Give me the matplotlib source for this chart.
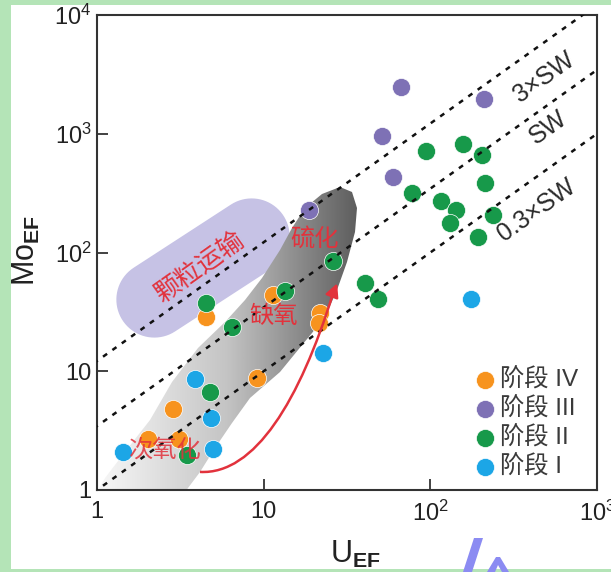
import numpy as np
import matplotlib.pyplot as plt
from matplotlib.patches import Polygon, Rectangle, PathPatch
from matplotlib.path import Path
from matplotlib.colors import LinearSegmentedColormap

plt.rcParams['font.family'] = ['Liberation Sans', 'Noto Sans CJK SC', 'DejaVu Sans']
plt.rcParams['mathtext.fontset'] = 'custom'
plt.rcParams['mathtext.rm'] = 'Liberation Sans'
plt.rcParams['mathtext.it'] = 'Liberation Sans:italic'
plt.rcParams['mathtext.bf'] = 'Liberation Sans:bold'

# ---- data (U_EF, Mo_EF) ----
stage4_u = [4.53, 11.3, 21.7, 21.4, 9.07, 2.85, 2.02, 3.10]
stage4_mo = [28.8, 43.9, 30.9, 25.5, 8.72, 4.81, 2.69, 2.67]
stage3_u = [66.4, 209, 51.1, 60.0, 18.7]
stage3_mo = [2477, 1963, 957, 435, 228]
stage2_u = [93.9, 156, 203, 214, 77.3, 116, 143, 131, 237, 194, 26.0, 40.4, 48.4,
            13.5, 4.53, 6.44, 4.76, 3.45]
stage2_mo = [716, 820, 662, 387, 317, 273, 228, 178, 207, 134, 84.8, 55.4, 40.6,
             47.7, 37.8, 23.7, 6.73, 1.97]
stage1_u = [3.87, 4.81, 4.96, 1.43, 22.6, 176]
stage1_mo = [8.6, 4.06, 2.21, 2.09, 14.3, 40.6]

sw_ratios = [12.2, 3.45, 1.0]          # 3xSW, SW, 0.3xSW lines (Mo/U)
sw_labels = ['3×SW', 'SW', '0.3×SW']

# red trend arrow: start, two bezier controls, end, tip (U, Mo)
arrow_u = [4.15, 8.86, 16.5, 26.0]
arrow_mo = [1.42, 1.34, 5.73, 44.7]
arrow_tip = (27.6, 55.0)

xticks = [1, 10, 100, 1000]
xticklabels = ['1', '10', r'$\mathregular{10^{2}}$', r'$\mathregular{10^{3}}$']
yticks = [1, 10, 100, 1000, 10000]
yticklabels = ['1', '10', r'$\mathregular{10^{2}}$', r'$\mathregular{10^{3}}$',
               r'$\mathregular{10^{4}}$']

c4, c3, c2, c1 = '#F7931E', '#7E71B5', '#17994A', '#1CA6E6'
red = '#E2323C'

# ---- figure ----
W, H = 611, 572
fig = plt.figure(figsize=(W / 100, H / 100), dpi=100)
fig.patch.set_facecolor('#B4E4B7')
fig.add_artist(Rectangle((11 / W, 3 / H), 1, (H - 8) / H, transform=fig.transFigure,
                         facecolor='white', edgecolor='none', zorder=-5))

ax_l, ax_r, ax_t, ax_b = 97, 597, 15, 490
ax = fig.add_axes([ax_l / W, (H - ax_b) / H, (ax_r - ax_l) / W, (ax_b - ax_t) / H])
ax.set_xscale('log')
ax.set_yscale('log')
ax.set_xlim(1, 1000)
ax.set_ylim(1, 10000)
ax.set_autoscale_on(False)

aw, ah = ax_r - ax_l, ax_b - ax_t


def frac(pts):
    # pixel positions inside the axes -> axes fraction
    return [((x - ax_l) / aw, (ax_b - y) / ah) for x, y in pts]


# lavender field (stadium shape)
cx, cy, ang, half, rad = 203, 268, np.radians(33), 58, 38
t = np.linspace(-np.pi / 2, np.pi / 2, 40)
d = np.array([np.cos(ang), -np.sin(ang)])
n = np.array([np.sin(ang), np.cos(ang)])
side1 = [(cx + half * d[0] + rad * (np.cos(a) * d[0] + np.sin(a) * n[0]),
          cy + half * d[1] + rad * (np.cos(a) * d[1] + np.sin(a) * n[1])) for a in t]
side2 = [(cx - half * d[0] - rad * (np.cos(a) * d[0] + np.sin(a) * n[0]),
          cy - half * d[1] - rad * (np.cos(a) * d[1] + np.sin(a) * n[1])) for a in t]
blob = Polygon(frac(side1 + side2), closed=True, transform=ax.transAxes,
               facecolor='#C6C2E5', edgecolor='none', zorder=1)
ax.add_patch(blob)

# gray gradient band
band_px = [(95, 495), (105, 478), (128, 448), (150, 420), (172, 382), (198, 348),
           (225, 322), (245, 300), (262, 278), (280, 250), (292, 228), (305, 208),
           (322, 194), (340, 187), (352, 192), (357, 208), (355, 232), (347, 262),
           (337, 290), (326, 315), (312, 333), (298, 350), (280, 372), (250, 398),
           (232, 423), (215, 448), (200, 472), (185, 492), (178, 505)]
band = Polygon(frac(band_px), closed=True, transform=ax.transAxes,
               facecolor='none', edgecolor='none')
ax.add_patch(band)
cmap = LinearSegmentedColormap.from_list('band', ['#f8f8f8', '#c4c4c4', '#5e5e5e'])
img = ax.imshow(np.linspace(0, 1, 256).reshape(1, -1), cmap=cmap, aspect='auto',
                extent=[0.0, 0.52, -0.05, 0.66], transform=ax.transAxes,
                interpolation='bilinear', zorder=1.1)
img.set_clip_path(band)
ax.set_xlim(1, 1000)
ax.set_ylim(1, 10000)

# points
ms = 170
kw = dict(s=ms, edgecolors='white', linewidths=0.5, zorder=2)
h4 = ax.scatter(stage4_u, stage4_mo, color=c4, label='阶段 IV', **kw)
h3 = ax.scatter(stage3_u, stage3_mo, color=c3, label='阶段 III', **kw)
h2 = ax.scatter(stage2_u, stage2_mo, color=c2, label='阶段 II', **kw)
h1 = ax.scatter(stage1_u, stage1_mo, color=c1, label='阶段 I', **kw)

# seawater reference lines
u_line = np.array([0.5, 3000])
for r in sw_ratios:
    ax.plot(u_line, r * u_line, color='#111111', lw=1.8, dashes=(2.0, 2.6), zorder=3)

ang_txt = 35.5
ax.text(0.894, 0.869, sw_labels[0], transform=ax.transAxes, rotation=ang_txt,
        ha='center', va='center', fontsize=18, color='#2a2a2a', zorder=4)
ax.text(0.902, 0.762, sw_labels[1], transform=ax.transAxes, rotation=ang_txt,
        ha='center', va='center', fontsize=18, color='#2a2a2a', zorder=4)
ax.text(0.880, 0.589, sw_labels[2], transform=ax.transAxes, rotation=ang_txt,
        ha='center', va='center', fontsize=18, color='#2a2a2a', zorder=4)

# red arrow (cubic bezier)
curve = Path(list(zip(arrow_u, arrow_mo)),
             [Path.MOVETO, Path.CURVE4, Path.CURVE4, Path.CURVE4])
ax.add_patch(PathPatch(curve, transform=ax.transData, facecolor='none',
                       edgecolor=red, lw=1.8, zorder=3.5))
ax.annotate('', xy=arrow_tip, xytext=(arrow_u[-1], arrow_mo[-1]),
            arrowprops=dict(arrowstyle='-|>', color=red, lw=1.8, mutation_scale=20,
                            shrinkA=0, shrinkB=0), zorder=3.5)

# red labels
cjk = ['Noto Sans CJK SC']
ax.text(0.206, 0.469, '颗粒运输', transform=ax.transAxes, rotation=35.5, ha='center',
        va='center', fontsize=18.5, color=red, family=cjk, zorder=4)
ax.text(0.436, 0.528, '硫化', transform=ax.transAxes, ha='center', va='center',
        fontsize=17.5, color=red, family=cjk, zorder=4)
ax.text(0.354, 0.366, '缺氧', transform=ax.transAxes, ha='center', va='center',
        fontsize=17.5, color=red, family=cjk, zorder=4)
ax.text(0.136, 0.084, '次氧化', transform=ax.transAxes, ha='center', va='center',
        fontsize=17.5, color=red, alpha=0.85, family=cjk, zorder=4)

# legend
leg = ax.legend(handles=[h4, h3, h2, h1], loc='upper left', bbox_to_anchor=(0.752, 0.256),
                frameon=False, fontsize=17.5, handletextpad=0.12, labelspacing=0.22,
                borderaxespad=0, handlelength=1.0, borderpad=0)
for txt in leg.get_texts():
    txt.set_color('#3a3a3a')

# axes styling
ax.set_xticks(xticks)
ax.set_xticklabels(xticklabels)
ax.set_yticks(yticks)
ax.set_yticklabels(yticklabels)
ax.xaxis.set_minor_locator(plt.NullLocator())
ax.yaxis.set_minor_locator(plt.NullLocator())
ax.tick_params(which='major', direction='in', length=8, width=1.3, color='#333333',
               labelsize=17, labelcolor='#222222')
ax.tick_params(axis='x', pad=8)
ax.tick_params(axis='y', pad=4)
for sp in ax.spines.values():
    sp.set_linewidth(1.5)
    sp.set_color('#333333')

fig.text(355 / W, 9 / H, r'U$_{\mathbf{EF}}$', ha='center', va='baseline',
         fontsize=22, color='#222222')
fig.text(26 / W, (H - 250) / H, r'Mo$_{\mathbf{EF}}$', ha='center', va='center',
         rotation=90, fontsize=22, color='#222222')

# stray blue marks at the bottom edge
blue = '#8B8BF2'
fig.add_artist(Polygon([(474 / W, (H - 538) / H), (483 / W, (H - 538) / H),
                        (472 / W, (H - 572) / H), (463 / W, (H - 572) / H)],
                       closed=True, transform=fig.transFigure, facecolor=blue,
                       edgecolor='none'))
fig.add_artist(Polygon([(487 / W, (H - 572) / H), (496 / W, (H - 557) / H),
                        (500 / W, (H - 557) / H), (509 / W, (H - 572) / H),
                        (502 / W, (H - 572) / H), (498 / W, (H - 565) / H),
                        (495 / W, (H - 572) / H)],
                       closed=True, transform=fig.transFigure, facecolor=blue,
                       edgecolor='none'))

fig.savefig('out.png', dpi=100, facecolor=fig.get_facecolor())
